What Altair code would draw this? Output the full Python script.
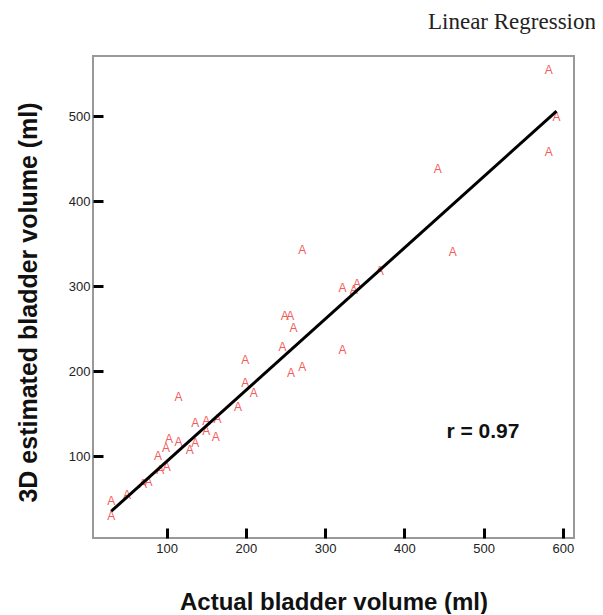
import altair as alt
import pandas as pd

# Data
actual = [582, 592, 582, 442, 461, 271, 322, 336, 340, 369,
          249, 256, 260, 246, 322, 199, 257, 271, 199, 210,
          190, 115, 164, 150, 136, 150, 162, 103, 115, 99,
          136, 129, 89, 100, 92, 77, 70, 50, 30, 30]
estimated = [554, 499, 458, 438, 340, 342, 298, 296, 302, 318,
             265, 265, 251, 228, 225, 213, 198, 205, 186, 174,
             158, 170, 144, 141, 139, 130, 122, 120, 116, 109,
             115, 107, 100, 87, 83, 70, 67, 54, 47, 29]

fit_x = [30, 592]
fit_y = [35, 506]

x_ticks = [100, 200, 300, 400, 500, 600]
y_ticks = [100, 200, 300, 400, 500]

r_label = ["r = 0.97"]
r_x = [499]
r_y = [128]

pts = pd.DataFrame({"actual": actual, "estimated": estimated, "sym": ["A"] * len(actual)})
fit = pd.DataFrame({"actual": fit_x, "estimated": fit_y})
rdf = pd.DataFrame({"actual": r_x, "estimated": r_y, "label": r_label})

xscale = alt.Scale(domain=[7, 614], nice=False, zero=False)
yscale = alt.Scale(domain=[3.5, 571], nice=False, zero=False)

xaxis = alt.Axis(values=x_ticks, offset=-10, tickSize=10, tickWidth=3, tickColor="black",
                 domain=False, grid=False, labelFont="Liberation Sans", labelFontSize=13,
                 labelColor="#222222", labelPadding=4, title="Actual bladder volume (ml)",
                 titleFont="Liberation Sans", titleFontSize=24, titleFontWeight="bold",
                 titleColor="#111111", titlePadding=35)
yaxis = alt.Axis(values=y_ticks, offset=-10, tickSize=10, tickWidth=3, tickColor="black",
                 domain=False, grid=False, labelFont="Liberation Sans", labelFontSize=13,
                 labelColor="#222222", labelPadding=3, title="3D estimated bladder volume (ml)",
                 titleFont="Liberation Sans", titleFontSize=25, titleFontWeight="bold",
                 titleColor="#111111", titlePadding=27, titleY=246)

points = alt.Chart(pts).mark_text(font="Liberation Sans", fontSize=12, color="#f25c5c",
                                  align="center", baseline="middle").encode(
    x=alt.X("actual:Q", scale=xscale, axis=xaxis),
    y=alt.Y("estimated:Q", scale=yscale, axis=yaxis),
    text="sym:N",
)

line = alt.Chart(fit).mark_line(color="black", strokeWidth=3).encode(
    x=alt.X("actual:Q", scale=xscale),
    y=alt.Y("estimated:Q", scale=yscale),
)

rtext = alt.Chart(rdf).mark_text(font="Liberation Sans", fontSize=21, fontWeight="bold",
                                 color="#111111", align="center", baseline="middle").encode(
    x=alt.X("actual:Q", scale=xscale),
    y=alt.Y("estimated:Q", scale=yscale),
    text="label:N",
)

chart = alt.layer(points, line, rtext).properties(
    width=481,
    height=482,
    title=alt.TitleParams("Linear Regression", anchor="end", frame="group",
                          font="Liberation Serif", fontSize=23, fontWeight="normal",
                          color="#222222", dx=22, offset=22),
    autosize=alt.AutoSizeParams(type="none"),
    padding={"left": 85, "top": 48, "right": 21, "bottom": 76},
    background="white",
).configure_view(stroke="#999999", strokeWidth=2)

chart.save("out.html", embed_options={"renderer": "svg", "actions": False})
